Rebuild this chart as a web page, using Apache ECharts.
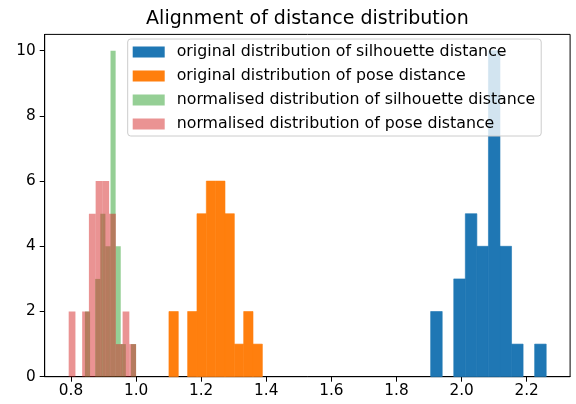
<!DOCTYPE html>
<html>
<head>
<meta charset="utf-8">
<script src="https://cdn.jsdelivr.net/npm/echarts@6/dist/echarts.min.js"></script>
<style>
html,body{margin:0;padding:0;background:#fff;}
#chart{width:576px;height:404px;}
</style>
</head>
<body>
<div id="chart"></div>
<script>
// ---- data ----
const titleText = 'Alignment of distance distribution';
const seriesNames = [
  'original distribution of silhouette distance',
  'original distribution of pose distance',
  'normalised distribution of silhouette distance',
  'normalised distribution of pose distance'
];
// histogram ranges [first bin edge, last bin edge] and counts (10 bins each)
const silhouetteRange = [1.905, 2.26];
const silhouetteCounts = [2, 0, 3, 5, 4, 10, 4, 1, 0, 1];
const poseRange = [1.101, 1.388];
const poseCounts = [2, 0, 2, 5, 6, 6, 5, 1, 2, 1];
const normSilhouetteRange = [0.843, 1.0];
const normSilhouetteCounts = [2, 0, 3, 5, 4, 10, 4, 1, 0, 1];
const normPoseRange = [0.793, 1.0];
const normPoseCounts = [2, 0, 2, 5, 6, 6, 5, 1, 2, 1];
const xTicks = [0.8, 1.0, 1.2, 1.4, 1.6, 1.8, 2.0, 2.2];
const yTicks = [0, 2, 4, 6, 8, 10];

// ---- style ----
const colors = ['#1f77b4', '#ff7f0e', 'rgba(44,160,44,0.5)', 'rgba(214,39,40,0.5)'];
const opaque = [true, true, false, false];
const FONT = 'DejaVu Sans';

function binsToData(range, counts) {
  const w = (range[1] - range[0]) / counts.length;
  return counts.map((c, i) => [range[0] + i * w, range[0] + (i + 1) * w, c]);
}

function renderItem(params, api) {
  const x0 = api.value(0), x1 = api.value(1), c = api.value(2);
  if (!c) return null;
  const p0 = api.coord([x0, 0]);
  const p1 = api.coord([x1, c]);
  const i = params.seriesIndex;
  return {
    type: 'rect',
    shape: { x: p0[0], y: p1[1], width: p1[0] - p0[0], height: p0[1] - p1[1] },
    style: opaque[i]
      ? { fill: colors[i], stroke: colors[i], lineWidth: 0.6 }
      : { fill: colors[i] }
  };
}

const hists = [
  [silhouetteRange, silhouetteCounts],
  [poseRange, poseCounts],
  [normSilhouetteRange, normSilhouetteCounts],
  [normPoseRange, normPoseCounts]
];

const series = hists.map((h, i) => ({
  name: seriesNames[i],
  type: 'custom',
  renderItem: renderItem,
  encode: { x: [0, 1], y: 2 },
  itemStyle: { color: colors[i] },
  data: binsToData(h[0], h[1]),
  z: 2 + i
}));

const chart = echarts.init(document.getElementById('chart'), null, { renderer: 'canvas' });
chart.setOption({
  animation: false,
  backgroundColor: '#fff',
  textStyle: { fontFamily: FONT },
  title: {
    text: titleText,
    left: 307.4,
    textAlign: 'center',
    top: 10,
    padding: 0,
    textStyle: { fontFamily: FONT, fontSize: 19, fontWeight: 'normal', color: '#000' }
  },
  grid: {
    left: 44.7, right: 5.9, top: 34.4, bottom: 27.3,
    show: true, borderColor: '#000', borderWidth: 1, backgroundColor: 'transparent'
  },
  legend: {
    orient: 'vertical',
    left: 127.7,
    top: 39,
    padding: [5, 6, 4, 5],
    itemGap: 8,
    itemWidth: 32,
    itemHeight: 11,
    icon: 'rect',
    backgroundColor: 'rgba(255,255,255,0.8)',
    borderColor: '#cccccc',
    borderWidth: 1,
    borderRadius: 3,
    z: 10,
    textStyle: { fontFamily: FONT, fontSize: 15.8, color: '#000', lineHeight: 15, padding: [0, 0, 0, 7] },
    data: seriesNames
  },
  xAxis: {
    type: 'value',
    min: 0.7193,
    max: 2.3334,
    splitLine: { show: false },
    axisLine: { show: true, onZero: false, lineStyle: { color: '#000', width: 1 } },
    axisTick: { show: true, length: 5, lineStyle: { color: '#000', width: 1 }, customValues: xTicks },
    axisLabel: {
      customValues: xTicks, margin: 7, color: '#000', fontFamily: FONT, fontSize: 15.3,
      formatter: v => Number(v).toFixed(1)
    }
  },
  yAxis: {
    type: 'value',
    min: 0,
    max: 10.5,
    splitLine: { show: false },
    axisLine: { show: true, lineStyle: { color: '#000', width: 1 } },
    axisTick: { show: true, length: 5, lineStyle: { color: '#000', width: 1 }, customValues: yTicks },
    axisLabel: {
      customValues: yTicks, margin: 9, color: '#000', fontFamily: FONT, fontSize: 15.3,
      formatter: v => String(Math.round(v))
    }
  },
  series: series
});
</script>
</body>
</html>
